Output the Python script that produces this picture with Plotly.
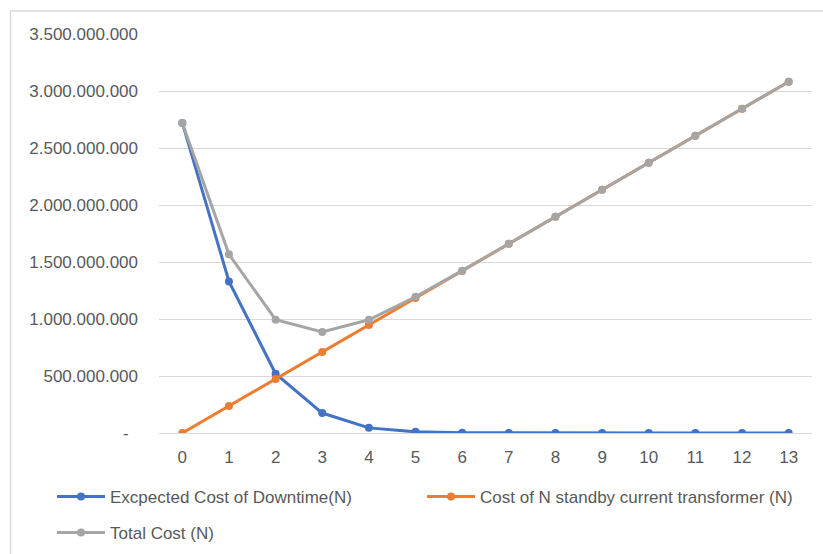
import plotly.graph_objects as go

# Number of standby current transformers
n_units = list(range(14))

# Expected cost of downtime for N standby units
downtime_cost = [2720e6, 1330e6, 520e6, 175e6, 45e6, 10e6, 2e6, 0.4e6,
                 0.07e6, 0.01e6, 0, 0, 0, 0]
# Cost of holding N standby current transformers
standby_cost = [0, 237e6, 474e6, 711e6, 948e6, 1185e6, 1422e6, 1659e6,
                1896e6, 2133e6, 2370e6, 2607e6, 2844e6, 3081e6]
# Total cost
total_cost = [2720e6, 1567e6, 994e6, 886e6, 993e6, 1195e6, 1424e6, 1659.4e6,
              1896.1e6, 2133e6, 2370e6, 2607e6, 2844e6, 3081e6]

y_ticks = [0, 500e6, 1000e6, 1500e6, 2000e6, 2500e6, 3000e6, 3500e6]
y_tick_labels = ["-\u00a0\u00a0", "500.000.000", "1.000.000.000", "1.500.000.000",
                 "2.000.000.000", "2.500.000.000", "3.000.000.000", "3.500.000.000"]

names = ["Excpected Cost of Downtime(N)",
         "Cost of N standby current transformer (N)",
         "Total Cost (N)"]
colors = ["#4472C4", "#ED7D31", "#A5A5A5"]

W, H = 823, 554
ML, MR, MT, MB = 159, 11, 34, 121
PW, PH = W - ML - MR, H - MT - MB

FONT = "Liberation Sans, Arial, sans-serif"
TXT = "#595959"
GRID = "#D9D9D9"

legend_ids = ["legend", "legend2", "legend3"]

fig = go.Figure()
for vals, name, col, lg in zip([downtime_cost, standby_cost, total_cost], names, colors, legend_ids):
    fig.add_trace(go.Scatter(
        x=n_units, y=vals, name=name, mode="lines+markers",
        line=dict(color=col, width=3),
        marker=dict(color=col, size=8),
        legend=lg, showlegend=True,
    ))

def px_x(px):
    return (px - ML) / PW

def px_y(py):
    return (H - MB - py) / PH

def legend_box(left_px, top_px):
    return dict(
        orientation="h", x=px_x(left_px), y=px_y(top_px),
        xanchor="left", yanchor="top",
        font=dict(size=17, color=TXT), itemwidth=48,
        bgcolor="rgba(0,0,0,0)", visible=True,
    )

fig.update_layout(
    width=W, height=H,
    showlegend=True,
    margin=dict(l=ML, r=MR, t=MT, b=MB, autoexpand=False),
    paper_bgcolor="white", plot_bgcolor="white",
    font=dict(family=FONT, size=17, color=TXT),
    xaxis=dict(
        range=[-0.5, 13.5], tickvals=n_units, ticktext=[str(v) for v in n_units],
        showgrid=False, zeroline=False, showline=True, linecolor=GRID, linewidth=1,
        ticks="", tickfont=dict(size=17, color=TXT), ticklabelstandoff=9,
        fixedrange=True,
    ),
    yaxis=dict(
        range=[0, 3.5e9], tickvals=y_ticks, ticktext=y_tick_labels,
        showgrid=True, gridcolor=GRID, gridwidth=1, zeroline=False, showline=False,
        ticks="", tickfont=dict(size=17, color=TXT), ticklabelstandoff=20,
        fixedrange=True,
    ),
    legend=legend_box(52, 479),
    legend2=legend_box(422, 479),
    legend3=legend_box(52, 515),
    shapes=[
        dict(type="line", xref="paper", yref="paper",
             x0=px_x(10.5), x1=px_x(10.5), y0=px_y(11), y1=px_y(H + 5),
             line=dict(color=GRID, width=1.5)),
        dict(type="line", xref="paper", yref="paper",
             x0=px_x(10.5), x1=px_x(W + 5), y0=px_y(11), y1=px_y(11),
             line=dict(color=GRID, width=1.5)),
    ],
)

fig.write_html("out.html")
